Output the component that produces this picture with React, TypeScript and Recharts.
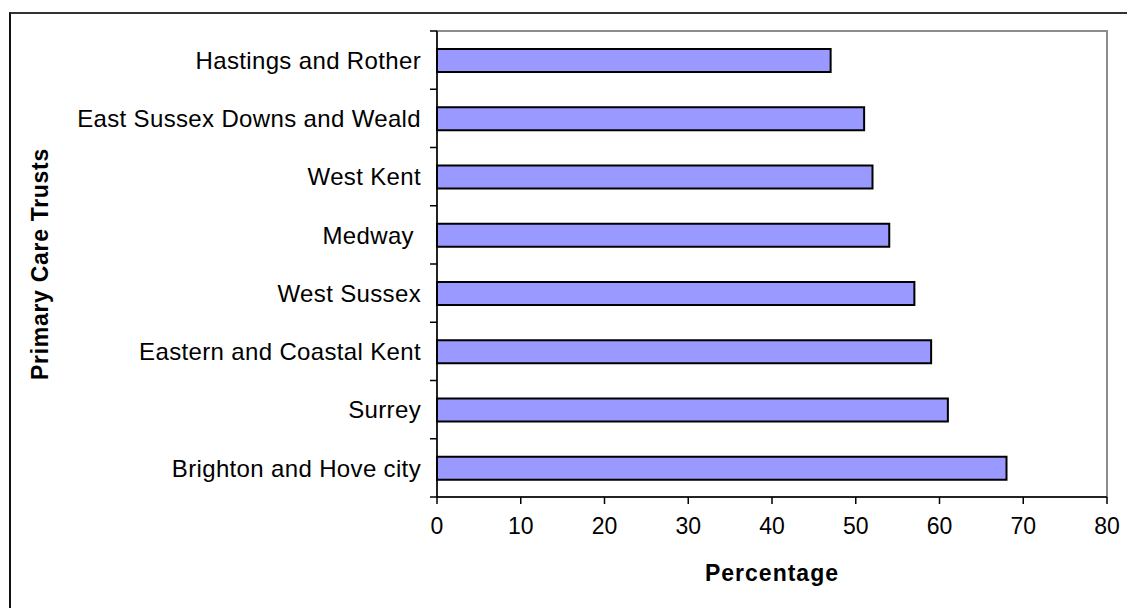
import React from "react";
import {
  Bar,
  BarChart,
  Label,
  ReferenceArea,
  XAxis,
  YAxis,
} from "recharts";

// Share of respondents per Primary Care Trust (percent)
const trusts = [
  "Hastings and Rother",
  "East Sussex Downs and Weald",
  "West Kent",
  "Medway ",
  "West Sussex",
  "Eastern and Coastal Kent",
  "Surrey",
  "Brighton and Hove city",
];
const percentages = [47, 51, 52, 54, 57, 59, 61, 68];
const percentTicks = [0, 10, 20, 30, 40, 50, 60, 70, 80];

const data = trusts.map((name, i) => ({ name, value: percentages[i] }));

const FONT = '"Liberation Sans", Arial, sans-serif';
const FONT_SIZE = 23;
const TICK_SIZE = 7;
const TICK_GAP = 9;

// Category labels, with the tick marks drawn between bands instead of at centres.
function TrustTick(props: any) {
  const { x, y, payload, index } = props;
  const half = payload?.offset ?? 0;
  const x1 = x + TICK_GAP;
  const x2 = x1 + TICK_SIZE;
  return (
    <g>
      <text
        x={x}
        y={y}
        dy="0.36em"
        textAnchor="end"
        fill="#000"
        fontSize={24}
        letterSpacing={0.35}
        fontFamily={FONT}
        style={{ whiteSpace: "pre" }}
      >
        {payload.value}
      </text>
      <line x1={x1} x2={x2} y1={y + half} y2={y + half} stroke="#000" strokeWidth={1.5} />
      {index === 0 && (
        <line x1={x1} x2={x2} y1={y - half} y2={y - half} stroke="#000" strokeWidth={1.5} />
      )}
    </g>
  );
}

export default function App() {
  return (
    <div
      style={{
        position: "absolute",
        left: 0,
        top: 0,
        width: 1127,
        height: 608,
        background: "#fff",
        overflow: "hidden",
        fontFamily: FONT,
      }}
    >
      <div
        style={{
          position: "absolute",
          left: 9,
          top: 12,
          right: 0,
          bottom: -4,
          borderTop: "2px solid #333",
          borderLeft: "2px solid #111",
        }}
      />
      <BarChart
        width={1127}
        height={608}
        data={data}
        layout="vertical"
        margin={{ top: 31, right: 20, bottom: 0, left: 0 }}
        style={{ position: "absolute", left: 0, top: 0 }}
      >
        <ReferenceArea
          x1={0}
          x2={80}
          fill="none"
          stroke="#8c8c8c"
          strokeWidth={2}
          ifOverflow="visible"
        />
        <XAxis
          type="number"
          domain={[0, 80]}
          ticks={percentTicks}
          height={111}
          tickSize={TICK_SIZE}
          tickMargin={14}
          tick={{ fill: "#000", fontSize: FONT_SIZE, fontFamily: FONT }}
          tickLine={{ stroke: "#000", strokeWidth: 1.5 }}
          axisLine={{ stroke: "#000", strokeWidth: 1.5 }}
        >
          <Label
            content={({ viewBox }: any) => (
              <text
                x={viewBox.x + viewBox.width / 2}
                y={viewBox.y + 84}
                textAnchor="middle"
                fill="#000"
                fontSize={FONT_SIZE}
                fontWeight="bold"
                fontFamily={FONT}
                letterSpacing={1}
              >
                Percentage
              </text>
            )}
          />
        </XAxis>
        <YAxis
          type="category"
          dataKey="name"
          width={437}
          tickSize={TICK_SIZE}
          tickMargin={TICK_GAP}
          tickLine={false}
          tick={<TrustTick />}
          interval={0}
          axisLine={{ stroke: "#000", strokeWidth: 1.5 }}
        >
          <Label
            content={({ viewBox }: any) => {
              const cx = 48;
              const cy = viewBox.y + viewBox.height / 2;
              return (
                <text
                  x={cx}
                  y={cy}
                  transform={`rotate(-90, ${cx}, ${cy})`}
                  textAnchor="middle"
                  fill="#000"
                  fontSize={FONT_SIZE}
                  fontWeight="bold"
                  fontFamily={FONT}
                  letterSpacing={0.7}
                >
                  Primary Care Trusts
                </text>
              );
            }}
          />
        </YAxis>
        <Bar
          dataKey="value"
          fill="#9999ff"
          stroke="#000"
          strokeWidth={2}
          barSize={23}
          isAnimationActive={false}
        />
      </BarChart>
    </div>
  );
}
